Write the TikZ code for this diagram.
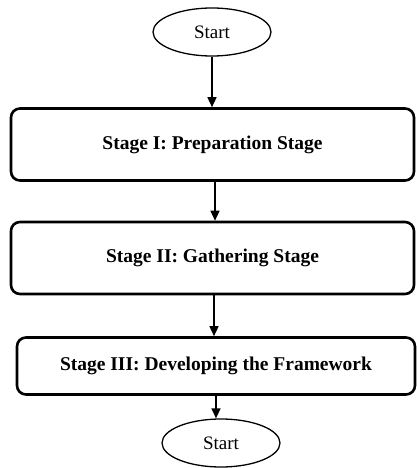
\documentclass[tikz,border=0pt]{standalone}
\usepackage{fontspec}
\setmainfont{Liberation Serif}
\usetikzlibrary{shapes.geometric,arrows.meta}
\tikzset{
  terminal/.style={ellipse, draw, line width=1.3pt, minimum width=118pt, minimum height=48pt, inner sep=0pt, font=\fontsize{19}{23}\selectfont},
  stagebox/.style={draw, line width=2.6pt, rounded corners=9pt, inner sep=0pt, font=\fontsize{19.5}{23}\selectfont\bfseries},
  flow/.style={line width=1.4pt, -{Triangle[length=10pt,width=9pt]}}
}
\begin{document}
\begin{tikzpicture}[x=1pt,y=-1pt]
    \useasboundingbox (0,0) rectangle (417,468);
    \node[terminal] (start) at (212,32) {Start};
    \node[stagebox, minimum width=403pt, minimum height=72pt] (prep) at (212.5,144.5) {Stage I: Preparation Stage};
    \node[stagebox, minimum width=403pt, minimum height=72pt] (gather) at (212.5,258) {Stage II: Gathering Stage};
    \node[stagebox, minimum width=398pt, minimum height=57pt] (develop) at (216,366) {Stage III: Developing the Framework};
    \node[terminal] (finish) at (221,443) {Start};
    \draw[flow] (start) -- (start |- prep.north);
    \draw[flow] (prep.south -| 215,0) -- (gather.north -| 215,0);
    \draw[flow] (gather.south -| 214,0) -- (develop.north -| 214,0);
    \draw[flow] (develop.south -| 216,0) -- (finish.north -| 216,0);
\end{tikzpicture}
\end{document}
